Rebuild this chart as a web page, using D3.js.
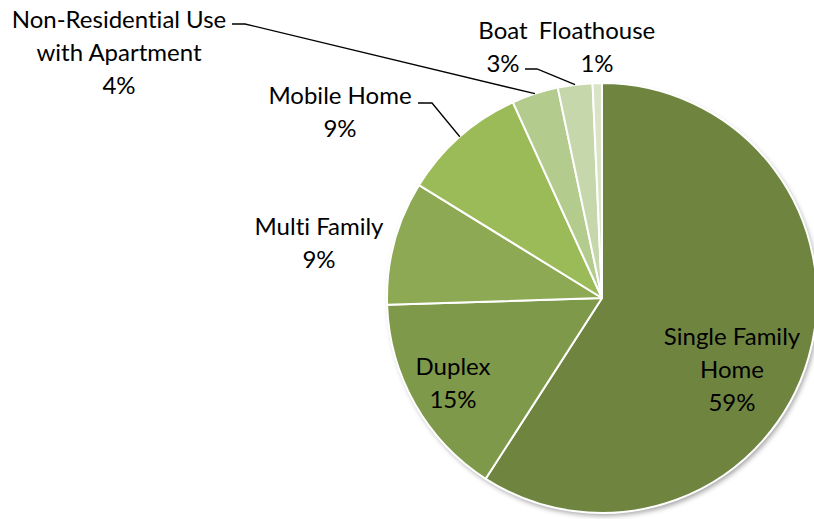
<!DOCTYPE html>
<html>
<head>
<meta charset="utf-8">
<script src="https://cdn.jsdelivr.net/npm/d3@7"></script>
<style>
  html, body { margin: 0; padding: 0; background: #ffffff; }
  svg { display: block; }
  text { font-family: Lato, "Open Sans", sans-serif; font-size: 24px; fill: #000;
         font-variant-ligatures: none; font-feature-settings: "liga" 0, "clig" 0; }
</style>
</head>
<body>
<svg id="chart" width="814" height="519"></svg>
<script>
// ---- data ----
const categories = ["Single Family Home", "Duplex", "Multi Family", "Mobile Home",
                    "Non-Residential Use with Apartment", "Boat", "Floathouse"];
const values = [59.1, 15.4, 9.3, 9.4, 3.5, 2.6, 0.7];
const labelLines = [
  ["Single Family", "Home", "59%"],
  ["Duplex", "15%"],
  ["Multi Family", "9%"],
  ["Mobile Home", "9%"],
  ["Non-Residential Use", "with Apartment", "4%"],
  ["Boat", "3%"],
  ["Floathouse", "1%"]
];
const colors = ["#6f853f", "#7f994a", "#8da953", "#9bbb59", "#b3cb8d", "#c6d7ab", "#d8e4c5"];

// ---- layout ----
const W = 814, H = 519;
const cx = 602, cy = 298, R = 215;
const lineH = 33;
// label block centres (x, y of first line centre)
const labelPos = [
  [732, 335], [453, 365], [319, 225], [340, 94], [119, 18], [503, 29], [597, 29]
];
// leader lines: [text-side start x, y, elbow x] ; null = none
const leaders = [null, null, null, [418, 103, 432], [232, 24, 245], [525, 69, 537], null];

const svg = d3.select("#chart");
const defs = svg.append("defs");
const f = defs.append("filter").attr("id", "shadow")
  .attr("x", "-10%").attr("y", "-10%").attr("width", "130%").attr("height", "130%");
f.append("feDropShadow").attr("dx", 2).attr("dy", 3).attr("stdDeviation", 2.5)
  .attr("flood-color", "#000").attr("flood-opacity", 0.35);

const pie = d3.pie().sort(null).value(d => d)(values);
const arc = d3.arc().innerRadius(0).outerRadius(R);

const g = svg.append("g").attr("transform", `translate(${cx},${cy})`);
// shadow base
g.append("circle").attr("r", R).attr("fill", "#ffffff").attr("filter", "url(#shadow)");
g.selectAll("path.slice").data(pie).enter().append("path")
  .attr("class", "slice")
  .attr("d", arc)
  .attr("fill", (d, i) => colors[i])
  .attr("stroke", "#ffffff")
  .attr("stroke-width", 2)
  .attr("stroke-linejoin", "round");

// leader lines
pie.forEach((d, i) => {
  const L = leaders[i];
  if (!L) return;
  const a = (d.startAngle + d.endAngle) / 2;
  const ex = cx + R * Math.sin(a), ey = cy - R * Math.cos(a);
  svg.append("polyline")
    .attr("points", `${L[0]},${L[1]} ${L[2]},${L[1]} ${ex},${ey}`)
    .attr("fill", "none").attr("stroke", "#000").attr("stroke-width", 1.3);
});

// labels
labelLines.forEach((lines, i) => {
  const [lx, ly] = labelPos[i];
  const t = svg.append("text").attr("text-anchor", "middle");
  lines.forEach((s, k) => {
    t.append("tspan").attr("x", lx).attr("y", ly + k * lineH)
      .attr("dominant-baseline", "central").text(s);
  });
});
</script>
</body>
</html>
